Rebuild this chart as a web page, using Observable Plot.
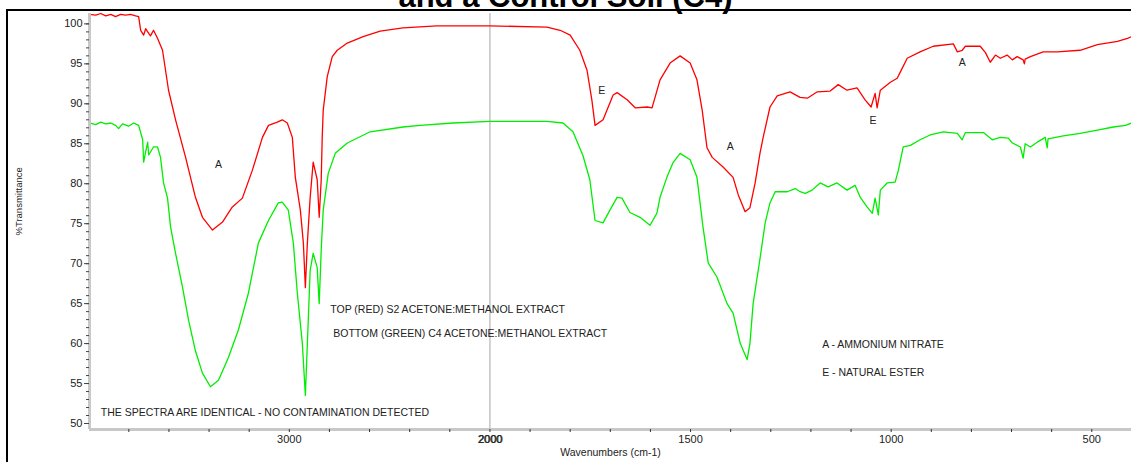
<!DOCTYPE html>
<html><head><meta charset="utf-8">
<script src="https://cdn.jsdelivr.net/npm/d3@7"></script>
<script src="https://cdn.jsdelivr.net/npm/@observablehq/plot@0.6"></script>
<style>
body{margin:0;background:#fff;overflow:hidden;font-family:"Liberation Sans",Arial,sans-serif;}
#wrap{position:relative;width:1131px;height:462px;overflow:hidden;background:#fff;}
#title{position:absolute;left:0;width:1131px;text-align:center;font-weight:bold;font-size:31px;line-height:31px;top:-19px;color:#000;white-space:nowrap;}
#frame{position:absolute;left:6px;top:9px;width:1140px;height:470px;border-left:2px solid #000;border-top:2px solid #000;}
#chart{position:absolute;left:0;top:0;}
</style></head>
<body>
<div id="wrap">
  <div id="frame"></div>
  <div id="title">and a Control Soil (C4)</div>
  <div id="chart"></div>
</div>
<script>
// Red spectrum (S2 acetone:methanol extract)
const redWn = [3996,3965,3940,3915,3890,3866,3841,3816,3791,3766,3751,3741,3726,3716,3706,3692,3677,3657,3632,3602,3567,3517,3468,3433,3383,3333,3284,3234,3184,3134,3104,3060,3035,3010,2985,2970,2945,2930,2920,2910,2896,2881,2861,2851,2841,2836,2831,2811,2786,2761,2711,2632,2547,2433,2264,2000,1858,1825,1800,1776,1758,1746,1738,1718,1693,1683,1658,1638,1608,1596,1576,1551,1526,1501,1484,1471,1459,1446,1419,1394,1381,1364,1352,1339,1327,1319,1302,1284,1252,1227,1209,1184,1152,1132,1110,1085,1065,1050,1040,1035,1027,1002,985,977,960,928,895,845,835,823,815,778,765,753,740,728,711,698,686,671,668,666,653,621,586,529,486,436,411,401];
const redT = [101.2,101.1,101.3,101.0,101.2,100.9,101.2,101.1,101.2,101.0,100.9,99.2,98.6,99.4,99.0,98.5,99.2,98.2,96.7,91.7,88.0,83.3,78.3,75.8,74.2,75.2,77.1,78.2,81.7,85.8,87.3,87.7,88.0,87.6,85.8,80.8,76.7,72.6,67.0,72.6,78.3,82.7,80.5,75.8,80.5,85.8,89.2,93.4,95.9,96.7,97.6,98.4,99.1,99.5,99.75,99.75,99.6,99.2,98.6,96.7,94.2,90.5,87.3,88.0,91.1,91.4,90.5,89.5,89.6,89.5,93.0,95.1,96.0,95.1,93.0,89.2,84.5,83.3,82.1,80.8,78.6,76.5,77.0,80.1,83.8,85.8,89.6,91.0,91.5,90.8,90.7,91.5,91.6,92.4,91.7,92.0,90.5,89.6,91.3,89.5,91.7,92.7,93.2,94.0,95.7,96.5,97.2,97.5,96.5,96.7,97.2,97.2,96.4,95.2,96.1,95.7,96.1,95.5,95.9,95.5,95.0,95.6,95.9,96.5,96.5,96.7,97.4,97.8,98.2,98.4];

// Green spectrum (C4 acetone:methanol extract)
const greenWn = [3996,3965,3940,3915,3890,3866,3851,3831,3801,3776,3751,3731,3726,3716,3706,3701,3677,3657,3642,3627,3607,3592,3567,3532,3502,3468,3433,3393,3353,3303,3254,3204,3154,3104,3055,3035,3005,2980,2960,2935,2920,2910,2896,2881,2861,2851,2841,2831,2806,2771,2711,2597,2433,2348,2184,2000,1858,1818,1793,1768,1751,1738,1718,1701,1683,1671,1651,1626,1601,1584,1576,1559,1544,1526,1501,1484,1469,1456,1434,1409,1394,1376,1359,1352,1344,1327,1314,1302,1289,1259,1239,1227,1214,1197,1177,1157,1135,1110,1090,1077,1060,1047,1040,1032,1027,1010,990,982,970,952,928,903,870,835,823,815,770,748,728,708,698,678,671,666,653,636,616,611,609,571,529,486,446,416,401];
const greenT = [87.6,87.4,87.7,87.5,87.6,87.3,86.9,87.5,87.2,87.6,87.3,85.5,82.7,84.0,85.2,83.6,84.6,84.6,83.3,80.1,78.2,74.6,71.3,67.0,62.9,59.1,56.3,54.6,55.4,58.3,61.7,66.3,72.6,75.4,77.6,77.7,76.7,72.6,66.3,60.0,53.5,60.0,69.2,71.3,69.5,65.0,71.7,76.7,81.3,83.8,85.1,86.5,87.1,87.3,87.6,87.8,87.8,87.6,86.5,83.5,80.5,75.4,75.1,76.7,78.3,78.2,76.4,75.8,74.8,76.3,78.3,80.8,82.6,83.8,83.0,80.8,74.6,70.1,68.3,65.0,63.8,60.0,58.0,60.0,65.0,70.6,75.1,77.6,79.0,79.0,79.4,79.0,78.8,79.2,80.1,79.6,80.1,79.2,79.8,78.3,77.1,76.3,78.2,76.1,79.2,80.1,80.2,81.7,84.6,84.8,85.5,86.1,86.5,86.3,85.5,86.4,86.4,85.5,85.8,85.7,85.1,84.6,83.2,85.0,84.6,85.2,85.8,84.5,85.6,86.0,86.3,86.7,87.1,87.3,87.6];

// Axis ticks
const xTicks = [3800,3600,3400,3200,3000,2800,2600,2400,2200,2000,1900,1800,1700,1600,1500,1400,1300,1200,1100,1000,900,800,700,600,500];
const xTickLabels = [3000,2000,1500,1000,500];
const yMajor = [50,55,60,65,70,75,80,85,90,95,100];
const yMinor = d3.range(50,101,1);

// Peak letters
const peakText = ["A","E","A","E","A"];
const peakWn = [3353,1721,1401,1045,823];
const peakT = [82.45,91.6,84.7,87.85,95.1];

// Notes
const noteText = ["TOP (RED) S2 ACETONE:METHANOL EXTRACT","BOTTOM (GREEN) C4 ACETONE:METHANOL EXTRACT","A - AMMONIUM NITRATE","E - NATURAL ESTER","THE SPECTRA ARE IDENTICAL - NO CONTAMINATION DETECTED"];
const noteWn = [2796,2781,1172,1172,3940];
const noteT = [64.3,61.3,59.9,56.4,51.4];

// The instrument plot compresses the region above 2000 cm-1 by a factor 2
const u = wn => wn > 2000 ? 2000 + (wn - 2000) / 2 : wn;
const uInv = v => v > 2000 ? 2000 + (v - 2000) * 2 : v;

const red = redWn.map((w,i)=>({wn:w,t:redT[i]}));
const green = greenWn.map((w,i)=>({wn:w,t:greenT[i]}));
const peaks = peakText.map((s,i)=>({s,wn:peakWn[i],t:peakT[i]}));
const notes = noteText.map((s,i)=>({s,wn:noteWn[i],t:noteT[i]}));

const xLeft = 3996, xRight = 401, yBottom = 49.25, yTop = 101.3;

const chart = Plot.plot({
  width: 1131, height: 462,
  marginLeft: 89, marginRight: 0, marginTop: 13, marginBottom: 33,
  style: {fontFamily: "'Liberation Sans', Arial, sans-serif", background: "transparent", color: "#222"},
  x: {domain: [u(xLeft), u(xRight)]},
  y: {domain: [yBottom, yTop]},
  marks: [
    Plot.ruleX([2000], {x: d => u(d), stroke: "#c4c4c4", strokeWidth: 1.5}),
    Plot.line(green, {x: d => u(d.wn), y: "t", stroke: "#00ee00", strokeWidth: 1.3}),
    Plot.line(red, {x: d => u(d.wn), y: "t", stroke: "#ff0000", strokeWidth: 1.3}),
    Plot.ruleY([yBottom], {stroke: "#c8c8c8", strokeWidth: 3}),
    Plot.ruleX([xLeft], {x: d => u(d), stroke: "#c8c8c8", strokeWidth: 3}),
    Plot.axisY({ticks: yMinor, tickSize: 3, tickFormat: () => "", label: null, stroke: "#444"}),
    Plot.axisY({ticks: yMajor, tickSize: 5, tickPadding: 2, fontSize: 11, label: null, stroke: "#444"}),
    Plot.axisX({ticks: xTicks.map(u), tickSize: 3, tickPadding: 3, fontSize: 11, label: null, stroke: "#333",
      tickFormat: v => { const w = Math.round(uInv(v)); return xTickLabels.includes(w) ? String(w) : ""; }}),
    Plot.text([2000], {x: d => u(d), text: d => String(d), frameAnchor: "bottom", lineAnchor: "top", dy: 6, dx: 0.8, fontSize: 11, fill: "#222"}),
    Plot.text(["%Transmittance"], {frameAnchor: "left", dx: -71, dy: 14, rotate: -90, fontSize: 9.5, fill: "#222"}),
    Plot.text(["Wavenumbers (cm-1)"], {frameAnchor: "bottom", dy: 26, fontSize: 10.5, fill: "#222"}),
    Plot.text(peaks, {x: d => u(d.wn), y: "t", text: "s", fontSize: 10.5, fill: "#222"}),
    Plot.text(notes, {x: d => u(d.wn), y: "t", text: "s", textAnchor: "start", fontSize: 10.5, fill: "#222"})
  ]
});
document.getElementById("chart").appendChild(chart);
</script>
</body></html>
